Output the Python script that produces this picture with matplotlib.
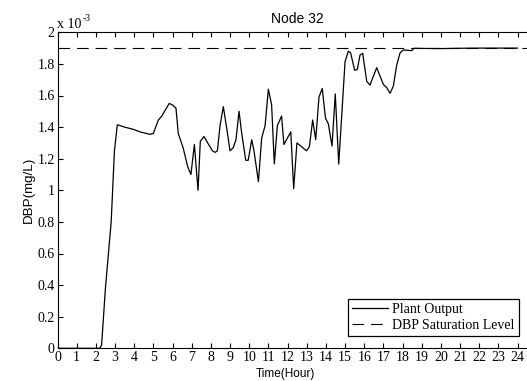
import matplotlib
matplotlib.use("Agg")
import matplotlib.pyplot as plt

# Data (DBP in units of 1e-3 mg/L)
hours = [0, 2.2, 2.3, 2.5, 2.8, 2.97, 3.12, 3.5, 3.95, 4.3,
         4.83, 5.0, 5.26, 5.44, 5.83, 6.0, 6.18, 6.3, 6.56, 6.79,
         6.96, 7.14, 7.33, 7.45, 7.64, 8.08, 8.22, 8.34, 8.48, 8.65,
         8.83, 9.0, 9.17, 9.31, 9.47, 9.61, 9.82, 9.95, 10.13, 10.25,
         10.48, 10.65, 10.83, 11.0, 11.17, 11.31, 11.47, 11.69, 11.81, 12.17,
         12.32, 12.49, 12.99, 13.14, 13.31, 13.47, 13.64, 13.81, 13.98, 14.13,
         14.32, 14.49, 14.67, 15.0, 15.17, 15.29, 15.5, 15.64, 15.78, 15.92,
         16.13, 16.3, 16.65, 17.0, 17.17, 17.35, 17.52, 17.69, 17.87, 18.04,
         18.48, 18.6, 19.0, 20.0, 21.0, 22.0, 24.0]
plant_output = [0, 0, 0.02, 0.38, 0.8, 1.25, 1.415, 1.40, 1.386, 1.37,
                1.354, 1.36, 1.445, 1.47, 1.55, 1.54, 1.52, 1.36, 1.266, 1.15,
                1.10, 1.29, 1.0, 1.31, 1.34, 1.25, 1.24, 1.25, 1.41, 1.53,
                1.39, 1.25, 1.27, 1.32, 1.50, 1.36, 1.19, 1.19, 1.32, 1.25,
                1.055, 1.33, 1.41, 1.64, 1.54, 1.167, 1.41, 1.47, 1.29, 1.37,
                1.01, 1.30, 1.25, 1.276, 1.445, 1.32, 1.59, 1.645, 1.456, 1.42,
                1.28, 1.61, 1.166, 1.814, 1.88, 1.87, 1.76, 1.765, 1.856, 1.867,
                1.69, 1.666, 1.776, 1.67, 1.65, 1.614, 1.66, 1.79, 1.87, 1.888,
                1.884, 1.899, 1.898, 1.897, 1.899, 1.9, 1.9]
saturation_level = 1.9
x_ticks = list(range(0, 25))
y_ticks = [0, 0.2, 0.4, 0.6, 0.8, 1.0, 1.2, 1.4, 1.6, 1.8, 2.0]
y_ticklabels = ["0", "0.2", "0.4", "0.6", "0.8", "1", "1.2", "1.4", "1.6", "1.8", "2"]

W, H = 527, 381
fig = plt.figure(figsize=(W / 100, H / 100), dpi=100)
left, right, top, bottom = 57.5, 536.75, 32.3, 348.3
ax = fig.add_axes([left / W, 1 - bottom / H, (right - left) / W, (bottom - top) / H])

serif = "Liberation Serif"
sans = "Liberation Sans"

ax.plot(hours, plant_output, color="black", lw=0.9, label="Plant Output")
ax.axhline(saturation_level, color="black", lw=0.8, dashes=(10.5, 6.2),
           label="DBP Saturation Level")

ax.set_xlim(0, 25)
ax.set_ylim(0, 2)
ax.set_xticks(x_ticks)
ax.set_xticklabels([str(t) for t in x_ticks], fontfamily=serif, fontsize=10)
ax.set_yticks(y_ticks)
ax.set_yticklabels(y_ticklabels, fontfamily=serif, fontsize=10)
ax.tick_params(direction="in", length=3.5, width=0.8, top=True, right=True, pad=2)
for s in ax.spines.values():
    s.set_linewidth(0.8)

ax.set_title("Node 32", fontfamily=sans, fontsize=10, pad=7)
ax.set_xlabel("Time(Hour)", fontfamily=sans, fontsize=8.5, va="top")
ax.xaxis.set_label_coords((285 - left) / (right - left), -(368 - bottom) / (bottom - top))
ax.set_ylabel("DBP(mg/L)", fontfamily=sans, fontsize=9.6, labelpad=2)

fig.text(57 / W, 1 - 28 / H, "x 10", fontfamily=serif, fontsize=10,
         ha="left", va="baseline")
fig.text(83 / W, 1 - 21 / H, "-3", fontfamily=serif, fontsize=7,
         ha="left", va="baseline")

leg = ax.legend(loc="lower right", bbox_to_anchor=(519 / W, 1 - 336 / H),
                bbox_transform=fig.transFigure, prop={"family": serif, "size": 10},
                frameon=True, fancybox=False, edgecolor="black", framealpha=1,
                handlelength=2.6, handletextpad=0.3, borderpad=0.3,
                labelspacing=0.2, borderaxespad=0)
leg.get_frame().set_linewidth(0.9)

fig.savefig("out.png", dpi=100)
